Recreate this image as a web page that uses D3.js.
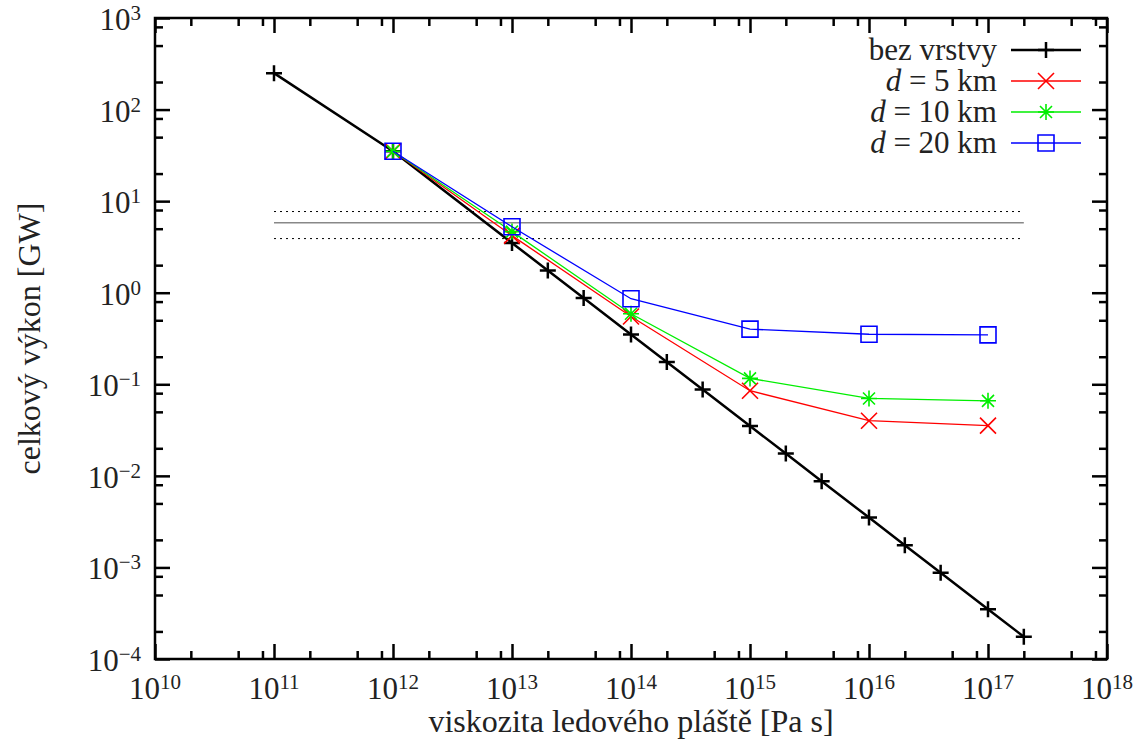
<!DOCTYPE html>
<html>
<head>
<meta charset="utf-8">
<script src="https://cdn.jsdelivr.net/npm/d3@7"></script>
<style>
  body { margin: 0; background: #fff; }
  text { font-family: "Liberation Serif", "Times New Roman", serif; fill: #222; }
</style>
</head>
<body>
<svg id="chart" width="1143" height="746"></svg>
<script>
// viscosity values [Pa s]
const etaFull = [1e11, 1e12, 1e13, 2e13, 4e13, 1e14, 2e14, 4e14, 1e15, 2e15, 4e15, 1e16, 2e16, 4e16, 1e17, 2e17];
const etaLayer = [1e12, 1e13, 1e14, 1e15, 1e16, 1e17];

// total power [GW]
const powerNoLayer = [250, 35, 3.5, 1.75, 0.875, 0.35, 0.175, 0.0875, 0.035, 0.0175, 0.00875, 0.0035, 0.00175, 0.000875, 0.00035, 0.000175];
const power5km = [35, 4.2, 0.55, 0.085, 0.040, 0.0354];
const power10km = [35, 4.65, 0.59, 0.116, 0.070, 0.066];
const power20km = [35, 5.25, 0.86, 0.40, 0.352, 0.346];

// reference band (mean and range)
const refLevel = 5.8;
const refBand = [3.9, 7.7];
const refExtent = [1e11, 2e17];

const xDecades = d3.range(10, 19);
const yDecades = d3.range(-4, 4);
const minorMult = [2, 5, 8];

const svg = d3.select("#chart");

const plotLeft = 155, plotRight = 1107, plotTop = 18, plotBottom = 659;

const x = d3.scaleLog().domain([1e10, 1e18]).range([plotLeft, plotRight]);
const y = d3.scaleLog().domain([1e-4, 1e3]).range([plotBottom, plotTop]);

const xMajor = xDecades.map(function(e) { return Math.pow(10, e); });
const yMajor = yDecades.map(function(e) { return Math.pow(10, e); });
const xMinor = [];
xDecades.slice(0, -1).forEach(function(e) {
    minorMult.forEach(function(m) { xMinor.push(m * Math.pow(10, e)); });
});
const yMinor = [];
yDecades.slice(0, -1).forEach(function(e) {
    minorMult.forEach(function(m) { yMinor.push(m * Math.pow(10, e)); });
});

// ticks on all four sides, pointing inwards
function tickAxis(axisFn, scale, values, size, transform) {
    const g = svg.append("g")
        .attr("transform", transform)
        .call(axisFn(scale).tickValues(values).tickSize(size).tickFormat(""));
    g.select(".domain").remove();
    g.selectAll("line").attr("stroke", "#000").attr("stroke-width", 2.5);
}
tickAxis(d3.axisBottom, x, xMajor, -15, "translate(0," + plotBottom + ")");
tickAxis(d3.axisBottom, x, xMinor, -8, "translate(0," + plotBottom + ")");
tickAxis(d3.axisTop, x, xMajor, -15, "translate(0," + plotTop + ")");
tickAxis(d3.axisTop, x, xMinor, -8, "translate(0," + plotTop + ")");
tickAxis(d3.axisLeft, y, yMajor, -15, "translate(" + plotLeft + ",0)");
tickAxis(d3.axisLeft, y, yMinor, -8, "translate(" + plotLeft + ",0)");
tickAxis(d3.axisRight, y, yMajor, -15, "translate(" + plotRight + ",0)");
tickAxis(d3.axisRight, y, yMinor, -8, "translate(" + plotRight + ",0)");

// tick labels with superscript exponents
function powerLabel(sel, e) {
    sel.append("tspan").text("10");
    sel.append("tspan").attr("dy", -10).style("font-size", "21px")
        .text(e < 0 ? "\u2212" + (-e) : e);
}
svg.append("g").selectAll("text")
    .data(xDecades)
    .enter().append("text")
        .attr("x", function(d) { return x(Math.pow(10, d)); })
        .attr("y", 699)
        .attr("text-anchor", "middle")
        .style("font-size", "31px")
        .each(function(d) { powerLabel(d3.select(this), d); });
svg.append("g").selectAll("text")
    .data(yDecades)
    .enter().append("text")
        .attr("x", 141)
        .attr("y", function(d) { return y(Math.pow(10, d)) + 12; })
        .attr("text-anchor", "end")
        .style("font-size", "31px")
        .each(function(d) { powerLabel(d3.select(this), d); });

// axis titles
svg.append("text")
    .attr("x", (plotLeft + plotRight) / 2)
    .attr("y", 732)
    .attr("text-anchor", "middle")
    .style("font-size", "32px")
    .text("viskozita ledového pláště [Pa s]");
svg.append("text")
    .attr("transform", "translate(40," + (plotTop + plotBottom) / 2 + ") rotate(-90)")
    .attr("text-anchor", "middle")
    .style("font-size", "32px")
    .text("celkový výkon [GW]");

// reference band
const band = svg.append("g");
band.append("line")
    .attr("x1", x(refExtent[0])).attr("x2", x(refExtent[1]))
    .attr("y1", y(refLevel)).attr("y2", y(refLevel))
    .attr("stroke", "#888").attr("stroke-width", 1.4);
band.selectAll(".dot")
    .data(refBand)
    .enter().append("line")
        .attr("x1", x(refExtent[0])).attr("x2", x(refExtent[1]))
        .attr("y1", function(d) { return y(d); })
        .attr("y2", function(d) { return y(d); })
        .attr("stroke", "#000").attr("stroke-width", 1)
        .attr("stroke-dasharray", "2,4");

// point symbols
const symbols = {
    plus: "M-8,0H8M0,-8V8",
    cross: "M-8,-8L8,8M-8,8L8,-8",
    star: "M-8,0H8M0,-8V8M-6,-6L6,6M-6,6L6,-6",
    square: "M-8,-8H8V8H-8Z"
};

const series = [
    { name: "bez vrstvy", xs: etaFull, ys: powerNoLayer, color: "#000", width: 2.5, symbol: "plus", italic: false },
    { name: "5 km", xs: etaLayer, ys: power5km, color: "#ff0000", width: 1.3, symbol: "cross", italic: true },
    { name: "10 km", xs: etaLayer, ys: power10km, color: "#00ee00", width: 1.3, symbol: "star", italic: true },
    { name: "20 km", xs: etaLayer, ys: power20km, color: "#0000ff", width: 1.3, symbol: "square", italic: true }
];

const line = d3.line()
    .x(function(d) { return x(d[0]); })
    .y(function(d) { return y(d[1]); });

series.forEach(function(s, i) {
    const pts = d3.zip(s.xs, s.ys);
    svg.append("path")
        .attr("d", line(pts))
        .attr("fill", "none")
        .attr("stroke", s.color)
        .attr("stroke-width", s.width);
    svg.append("g").selectAll("path")
        .data(pts)
        .enter().append("path")
            .attr("transform", function(d) { return "translate(" + x(d[0]) + "," + y(d[1]) + ")"; })
            .attr("d", symbols[s.symbol])
            .attr("fill", "none")
            .attr("stroke", s.color)
            .attr("stroke-width", s.symbol === "plus" ? 2.5 : 1.6);

    // legend entry
    const ly = 50 + i * 31;
    svg.append("line")
        .attr("x1", 1011).attr("x2", 1081)
        .attr("y1", ly).attr("y2", ly)
        .attr("stroke", s.color).attr("stroke-width", s.width);
    svg.append("path")
        .attr("transform", "translate(1046," + ly + ")")
        .attr("d", symbols[s.symbol])
        .attr("fill", "none")
        .attr("stroke", s.color)
        .attr("stroke-width", s.symbol === "plus" ? 2.5 : 1.6);
    const t = svg.append("text")
        .attr("x", 997)
        .attr("y", ly + 10)
        .attr("text-anchor", "end")
        .style("font-size", "31px");
    if (s.italic) {
        t.append("tspan").style("font-style", "italic").text("d");
        t.append("tspan").text(" = " + s.name);
    } else {
        t.text(s.name);
    }
});

// frame
svg.append("rect")
    .attr("x", plotLeft).attr("y", plotTop)
    .attr("width", plotRight - plotLeft).attr("height", plotBottom - plotTop)
    .attr("fill", "none")
    .attr("stroke", "#000")
    .attr("stroke-width", 2.5);
</script>
</body>
</html>
